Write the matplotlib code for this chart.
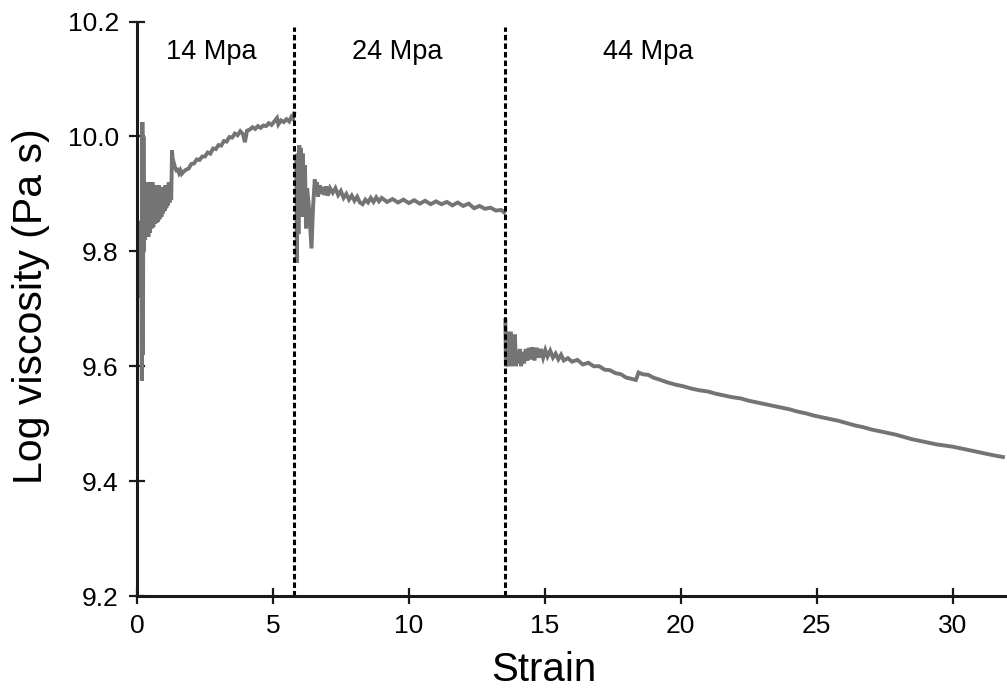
import matplotlib
matplotlib.use("Agg")
import matplotlib.pyplot as plt

plt.rcParams['font.family'] = ['Liberation Sans', 'DejaVu Sans']

# ── Data ─────────────────────────────────────────────────────────────────────
# 14 MPa stage
strain_14 = [0.08, 0.10, 0.12, 0.14, 0.16, 0.18, 0.20, 0.22, 0.24, 0.26,
             0.28, 0.30, 0.33, 0.36, 0.39, 0.42, 0.45, 0.48, 0.51, 0.54,
             0.57, 0.60, 0.63, 0.66, 0.69, 0.72, 0.75, 0.78, 0.81, 0.84,
             0.87, 0.90, 0.93, 0.96, 0.99, 1.02, 1.05, 1.08, 1.11, 1.14,
             1.17, 1.20, 1.23, 1.26, 1.29, 1.31, 1.35, 1.40, 1.45, 1.50,
             1.55, 1.60, 1.65, 1.70, 1.80, 1.90, 2.00, 2.10, 2.20, 2.30,
             2.40, 2.50, 2.60, 2.70, 2.80, 2.90, 3.00, 3.10, 3.20, 3.30,
             3.40, 3.50, 3.60, 3.70, 3.80, 3.90, 3.97, 4.05, 4.15, 4.25,
             4.35, 4.45, 4.55, 4.65, 4.75, 4.85, 4.95, 5.05, 5.15, 5.20,
             5.30, 5.40, 5.50, 5.60, 5.68, 5.74, 5.78]
visc_14 = [9.850, 9.760, 9.840, 9.720, 9.800, 9.575, 10.025, 9.620, 10.000, 9.800,
           9.920, 9.820, 9.920, 9.830, 9.910, 9.825, 9.920, 9.832, 9.912, 9.840,
           9.920, 9.842, 9.912, 9.848, 9.915, 9.850, 9.910, 9.852, 9.915, 9.856,
           9.910, 9.860, 9.912, 9.866, 9.910, 9.870, 9.915, 9.875, 9.915, 9.880,
           9.920, 9.885, 9.920, 9.890, 9.976, 9.962, 9.955, 9.946, 9.941, 9.942,
           9.936, 9.941, 9.935, 9.938, 9.942, 9.944, 9.952, 9.953, 9.960, 9.959,
           9.965, 9.965, 9.972, 9.970, 9.979, 9.978, 9.985, 9.984, 9.992, 9.991,
           9.999, 9.998, 10.005, 10.002, 10.009, 10.004, 9.990, 10.010, 10.012, 10.016,
           10.013, 10.018, 10.015, 10.019, 10.018, 10.023, 10.020, 10.026, 10.032, 10.021,
           10.028, 10.025, 10.030, 10.026, 10.034, 10.031, 10.040]

# 24 MPa stage
strain_24 = [5.86, 5.88, 5.91, 5.94, 5.97, 6.00, 6.03, 6.06, 6.10, 6.14,
             6.18, 6.22, 6.26, 6.32, 6.42, 6.48, 6.54, 6.58, 6.62, 6.66,
             6.72, 6.78, 6.84, 6.90, 6.96, 7.02, 7.10, 7.20, 7.30, 7.40,
             7.50, 7.60, 7.70, 7.80, 7.90, 8.00, 8.10, 8.20, 8.30, 8.40,
             8.50, 8.60, 8.70, 8.80, 8.90, 9.00, 9.20, 9.40, 9.60, 9.80,
             10.0, 10.2, 10.4, 10.6, 10.8, 11.0, 11.2, 11.4, 11.6, 11.8,
             12.0, 12.2, 12.4, 12.6, 12.8, 13.0, 13.2, 13.4, 13.5]
visc_24 = [9.960, 9.780, 9.970, 9.830, 9.985, 9.860, 9.980, 9.870, 9.970, 9.860,
           9.950, 9.840, 9.910, 9.880, 9.805, 9.880, 9.925, 9.900, 9.920, 9.895,
           9.915, 9.900, 9.912, 9.898, 9.913, 9.897, 9.910, 9.902, 9.910, 9.898,
           9.905, 9.893, 9.900, 9.890, 9.897, 9.888, 9.895, 9.885, 9.882, 9.890,
           9.885, 9.893, 9.886, 9.894, 9.887, 9.893, 9.886, 9.891, 9.885, 9.890,
           9.884, 9.889, 9.883, 9.888, 9.882, 9.887, 9.882, 9.886, 9.880, 9.885,
           9.879, 9.883, 9.875, 9.879, 9.874, 9.876, 9.871, 9.872, 9.868]

# 44 MPa stage
strain_44 = [13.55, 13.57, 13.60, 13.63, 13.66, 13.70, 13.74, 13.78, 13.82, 13.86,
             13.90, 13.94, 13.98, 14.03, 14.08, 14.13, 14.18, 14.24, 14.30, 14.36,
             14.42, 14.48, 14.55, 14.62, 14.70, 14.78, 14.86, 14.94, 15.02, 15.10,
             15.20, 15.30, 15.40, 15.50, 15.60, 15.70, 15.85, 16.0, 16.2, 16.4,
             16.6, 16.8, 17.0, 17.2, 17.4, 17.6, 17.8, 18.0, 18.2, 18.35,
             18.45, 18.6, 18.8, 19.0, 19.2, 19.5, 19.8, 20.1, 20.4, 20.7,
             21.0, 21.3, 21.6, 21.9, 22.2, 22.5, 22.8, 23.1, 23.4, 23.7,
             24.0, 24.3, 24.6, 24.9, 25.2, 25.5, 25.8, 26.1, 26.4, 26.7,
             27.0, 27.3, 27.6, 27.9, 28.2, 28.5, 28.8, 29.1, 29.4, 29.7,
             30.0, 30.3, 30.6, 30.9, 31.2, 31.5, 31.85]
visc_44 = [9.680, 9.600, 9.660, 9.600, 9.640, 9.610, 9.660, 9.600, 9.630, 9.605,
           9.655, 9.600, 9.625, 9.605, 9.630, 9.600, 9.625, 9.605, 9.630, 9.610,
           9.632, 9.612, 9.633, 9.610, 9.632, 9.615, 9.630, 9.615, 9.628, 9.617,
           9.627, 9.615, 9.622, 9.612, 9.620, 9.610, 9.614, 9.608, 9.611, 9.603,
           9.606, 9.600, 9.600, 9.594, 9.593, 9.588, 9.586, 9.580, 9.578, 9.576,
           9.589, 9.586, 9.585, 9.580, 9.577, 9.572, 9.568, 9.565, 9.561, 9.558,
           9.556, 9.552, 9.549, 9.546, 9.544, 9.540, 9.537, 9.534, 9.531, 9.528,
           9.525, 9.521, 9.518, 9.514, 9.511, 9.508, 9.505, 9.501, 9.497, 9.494,
           9.490, 9.487, 9.484, 9.481, 9.477, 9.473, 9.470, 9.467, 9.464, 9.462,
           9.460, 9.457, 9.454, 9.451, 9.448, 9.445, 9.442]

stage_bounds = [5.78, 13.53]
stage_labels = ["14 Mpa", "24 Mpa", "44 Mpa"]
stage_label_x = [2.74, 9.56, 18.79]

x_ticks = [0, 5, 10, 15, 20, 25, 30]
y_ticks = [9.2, 9.4, 9.6, 9.8, 10.0, 10.2]

# ── Figure ───────────────────────────────────────────────────────────────────
fig = plt.figure(figsize=(10.07, 6.88), dpi=100)
ax = fig.add_axes([0.1360, 0.1337, 0.8640, 0.8350])

line_kw = dict(color='#747474', lw=2.8, solid_joinstyle='miter')
ax.plot(strain_14, visc_14, **line_kw)
ax.plot(strain_24, visc_24, **line_kw)
ax.plot(strain_44, visc_44, **line_kw)

ax.vlines(stage_bounds, 9.2, 10.19, colors='black', lw=2.2,
          linestyles=[(0, (1.8, 1.0))])

for xt, lab in zip(stage_label_x, stage_labels):
    ax.text(xt, 10.135, lab, ha='center', va='baseline', fontsize=19.5)

ax.set_xlim(0, 32)
ax.set_ylim(9.2, 10.2)
ax.set_xticks(x_ticks)
ax.set_yticks(y_ticks)
ax.set_yticklabels([f"{v:.1f}" for v in y_ticks])

for side in ('top', 'right'):
    ax.spines[side].set_visible(False)
for side in ('left', 'bottom'):
    ax.spines[side].set_linewidth(2.2)
    ax.spines[side].set_color('#1a1a1a')
ax.tick_params(direction='inout', length=11.5, width=1.6, labelsize=19,
               pad=7.3, color='#1a1a1a')

ax.set_xlabel("Strain", fontsize=29)
ax.xaxis.set_label_coords(407 / 870, -0.148)
ax.xaxis.label.set_va('baseline')
ax.set_ylabel("Log viscosity (Pa s)", fontsize=29.5)
ax.yaxis.set_label_coords(-0.1095, 0.505)
ax.yaxis.label.set_va('baseline')

fig.savefig("out.png", dpi=100)
